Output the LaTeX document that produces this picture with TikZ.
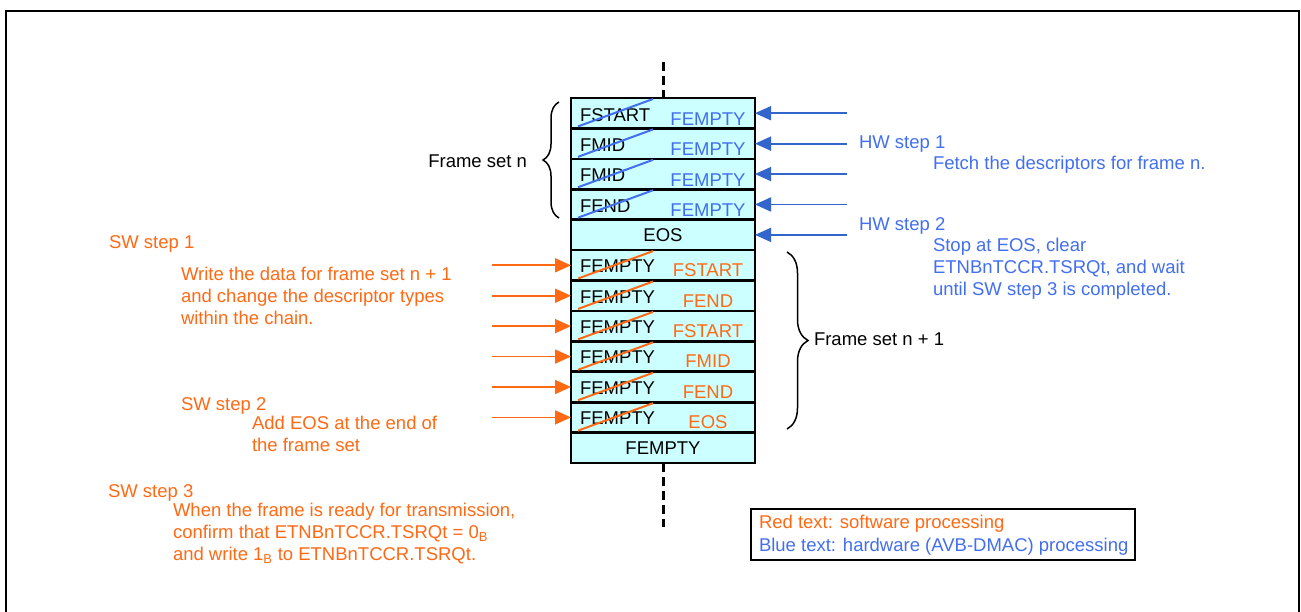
\documentclass[tikz,border=0pt]{standalone}
\usepackage{fontspec}
\setmainfont{Liberation Sans}
\usetikzlibrary{arrows.meta,decorations.pathreplacing}
\definecolor{swor}{RGB}{255,105,20}
\definecolor{hwbl}{RGB}{66,110,240}
\definecolor{hwar}{RGB}{51,102,204}
\definecolor{cellfill}{RGB}{204,255,255}
\begin{document}
\begin{tikzpicture}[x=1pt,y=-1pt,
  cell/.style={draw=black,line width=2.6pt,fill=cellfill,minimum width=184pt,minimum height=30.42pt,inner sep=0pt,outer sep=0pt},
  txt/.style={font=\fontsize{18.5}{22}\selectfont,inner sep=0pt,outer sep=0pt},
  oldlbl/.style={txt,anchor=west,text=black},
  newhw/.style={txt,text=hwbl},
  newsw/.style={txt,text=swor},
  hwtxt/.style={txt,text=hwbl,anchor=north west,align=left},
  swtxt/.style={txt,text=swor,anchor=north west,align=left},
  hwarrow/.style={draw=hwar,line width=1.8pt,-{Triangle[length=16pt,width=14pt]}},
  swarrow/.style={draw=swor,line width=1.8pt,-{Triangle[length=16pt,width=14pt]}},
  hwstrike/.style={draw=hwbl,line width=2pt},
  swstrike/.style={draw=swor,line width=2pt},
  brc/.style={draw=black,line width=1.5pt,decorate},
  chainline/.style={draw=black,line width=3pt,dash pattern=on 9pt off 5pt},
]
\useasboundingbox (0,0) rectangle (1301,612);
% outer frame
\draw[line width=2pt] (1299,700) -- (1299,11) -- (6,11) -- (6,700);

% cells
\foreach \i in {1,...,12}
  \node[cell] (r\i) at (663,{98+30.42*(\i-0.5)}) {};

% old labels
\node[oldlbl] (o1) at ([xshift=9pt,yshift=-1.5pt]r1.west) {FSTART};
\node[oldlbl] (o2) at ([xshift=9pt,yshift=-1.5pt]r2.west) {FMID};
\node[oldlbl] (o3) at ([xshift=9pt,yshift=-1.5pt]r3.west) {FMID};
\node[oldlbl] (o4) at ([xshift=9pt,yshift=-1.5pt]r4.west) {FEND};
\foreach \i in {6,...,11}
  \node[oldlbl] (o\i) at ([xshift=9pt,yshift=-1pt]r\i.west) {FEMPTY};
\node[txt] (o5) at (r5) {EOS};
\node[txt] (o12) at (r12) {FEMPTY};

% new labels
\foreach \i in {1,...,4}
  \node[newhw] (n\i) at ([xshift=45pt,yshift=-6pt]r\i.center) {FEMPTY};
\node[newsw] (n6) at ([xshift=45pt,yshift=-5pt]r6.center) {FSTART};
\node[newsw] (n7) at ([xshift=45pt,yshift=-5pt]r7.center) {FEND};
\node[newsw] (n8) at ([xshift=45pt,yshift=-5pt]r8.center) {FSTART};
\node[newsw] (n9) at ([xshift=45pt,yshift=-5pt]r9.center) {FMID};
\node[newsw] (n10) at ([xshift=45pt,yshift=-5pt]r10.center) {FEND};
\node[newsw] (n11) at ([xshift=45pt,yshift=-5pt]r11.center) {EOS};

% strikes
\foreach \i in {1,...,4}
  \draw[hwstrike] ([xshift=7pt,yshift=2pt]r\i.south west) -- ([xshift=82pt,yshift=-1pt]r\i.north west);
\foreach \i in {6,...,11}
  \draw[swstrike] ([xshift=7pt,yshift=2pt]r\i.south west) -- ([xshift=82pt,yshift=-1pt]r\i.north west);

% chain dashed lines
\coordinate (dt) at (663,62);
\coordinate (db) at (663,527);
\draw[chainline] (dt) -- (r1);
\draw[chainline] (r12) -- (db);

% hardware arrows
\foreach \i in {1,...,5} {
  \coordinate (h\i) at (847,{98+30.42*(\i-0.5)});
  \draw[hwarrow] (h\i) -- (r\i);
}
% software arrows
\foreach \i in {6,...,11} {
  \coordinate (s\i) at (492,{98+30.42*(\i-0.5)});
  \draw[swarrow] (s\i) -- (r\i);
}

% braces
\coordinate (bl1) at (559,218);
\coordinate (bl2) at (559,102);
\draw[brc,decoration={brace,amplitude=16pt}] (bl1) -- (bl2);
\node[txt,anchor=base east] (fsn) at (527,167.5) {Frame set n};
\coordinate (br1) at (787,252);
\coordinate (br2) at (787,429);
\draw[brc,decoration={brace,amplitude=21pt}] (br1) -- (br2);
\node[txt,anchor=base west] (fsn1) at (814,345.5) {Frame set n + 1};

% hardware texts
\node[txt,text=hwbl,anchor=base west] (hw1) at (859,148.5) {HW step 1};
\node[txt,text=hwbl,anchor=base west] (hw1t) at (933,169.5) {Fetch the descriptors for frame n.};
\node[txt,text=hwbl,anchor=base west] (hw2) at (859,230.5) {HW step 2};
\node[hwtxt] (hw2t) at (933,238.5) {Stop at EOS, clear\\ETNBnTCCR.TSRQt, and wait\\until SW step 3 is completed.};

% software texts
\node[txt,text=swor,anchor=base west] (sw1) at (109,248.5) {SW step 1};
\node[swtxt] (sw1t) at (181,267.5) {Write the data for frame set n + 1\\and change the descriptor types\\within the chain.};
\node[txt,text=swor,anchor=base west] (sw2) at (181,410.5) {SW step 2};
\node[swtxt] (sw2t) at (252,416.5) {Add EOS at the end of\\the frame set};
\node[txt,text=swor,anchor=base west] (sw3) at (108,497.5) {SW step 3};
\node[swtxt] (sw3t) at (173,503.5) {When the frame is ready for transmission,\\confirm that ETNBnTCCR.TSRQt = 0\textsubscript{B}\\and write 1\textsubscript{B} to ETNBnTCCR.TSRQt.};

% legend
\node[draw=black,line width=1.5pt,anchor=north west,minimum width=384pt,minimum height=51pt,inner sep=0pt] (leg) at (750,508) {};
\node[txt,text=swor,anchor=base west] (lg1) at (759,528.5) {Red text: software processing};
\node[txt,text=hwbl,anchor=base west] (lg2) at (759,551.5) {Blue text: hardware (AVB-DMAC) processing};
\end{tikzpicture}
\end{document}
